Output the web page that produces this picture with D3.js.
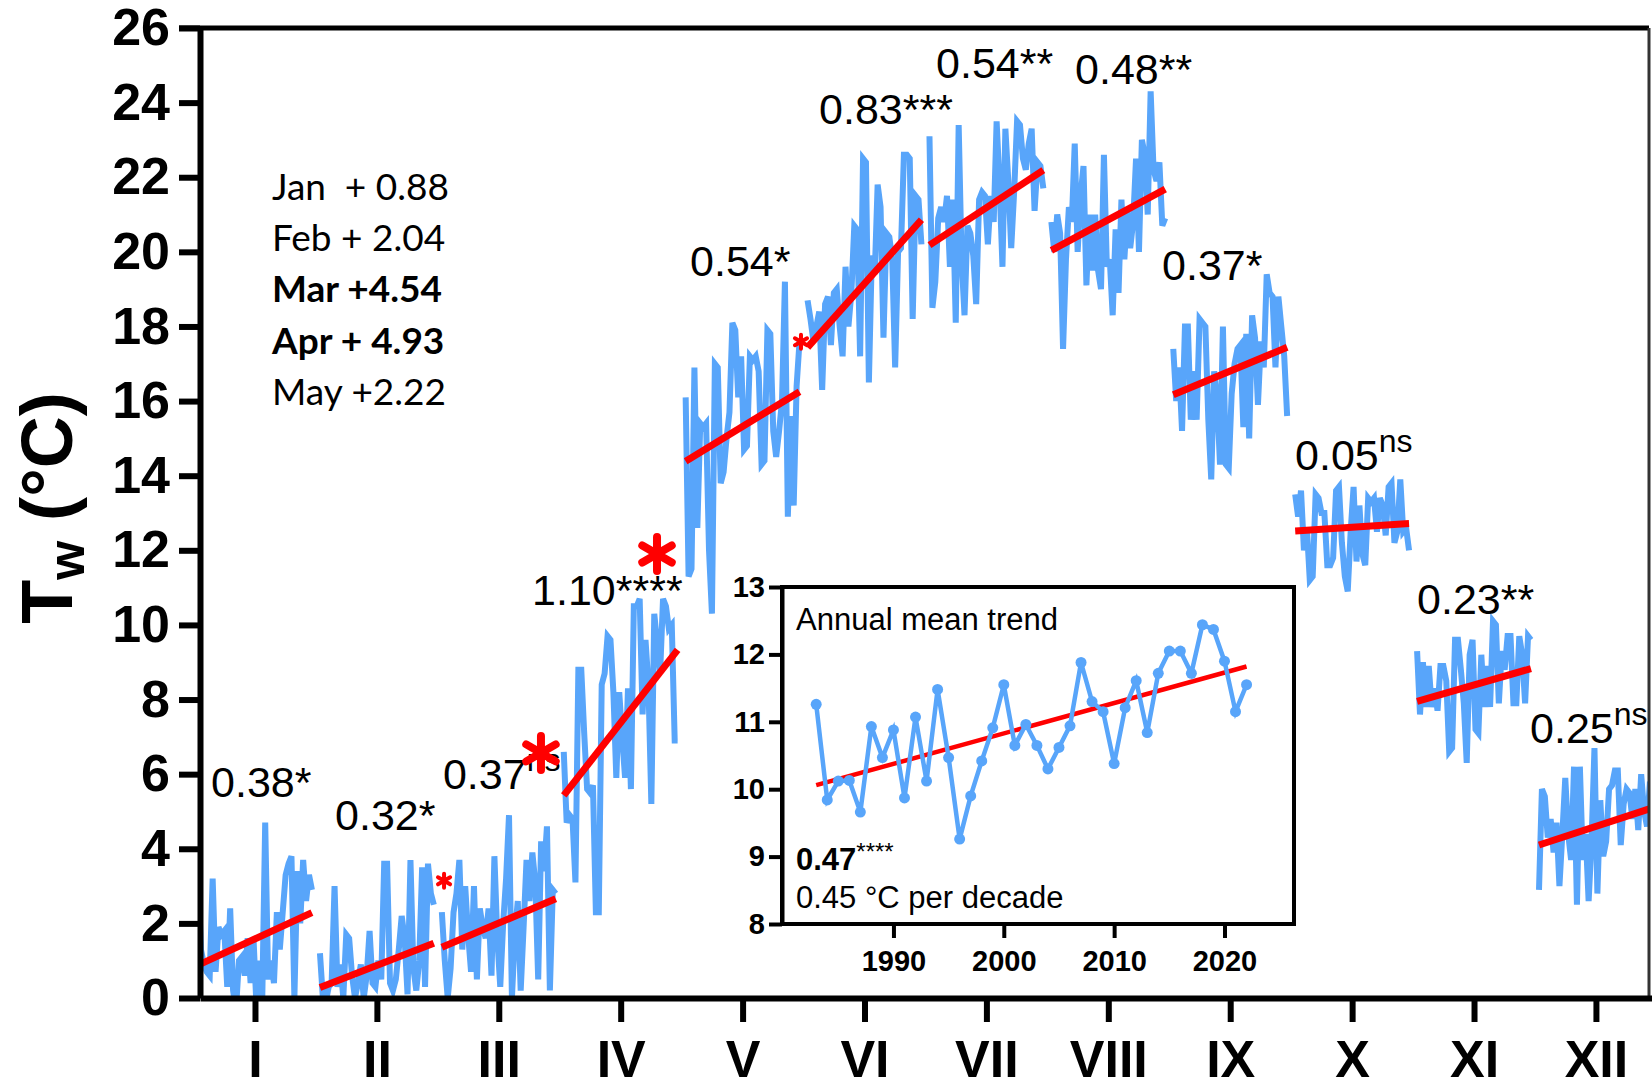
<!DOCTYPE html>
<html>
<head>
<meta charset="utf-8">
<script src="https://cdn.jsdelivr.net/npm/d3@7"></script>
<style>
  html, body { margin: 0; padding: 0; background: #fff; }
  svg { display: block; }
</style>
</head>
<body>
<script>
// monthly mean water temperature, 1983-2022, one array per month
const years = d3.range(1983, 2023);
const monthLabels = ["I", "II", "III", "IV", "V", "VI", "VII", "VIII", "IX", "X", "XI", "XII"];

const jan = [3.5, 1.3, 0.9, 0.7, 0.6, 3.2, 0.7, 1.9, 1.7, 1.8, 0.3, 2.4, 0.2, -0.3, 1.0, 1.1, 0.6, 1.6, 0.4, 1.6, -0.2, 1.0, 0.0, 4.7, 0.5, 1.0, 0.4, 2.3, 1.3, 2.3, 3.3, 3.6, 3.8, 0.0, 3.4, 2.0, 3.7, 2.6, 3.3, 2.9];
const feb = [1.2, 0.0, -0.1, 0.3, 0.4, 3.0, 0.3, 0.9, 0.0, 1.7, 1.6, 0.6, 0.0, 0.4, 0.9, 0.0, 0.6, 1.8, 0.4, 0.3, 1.0, 0.5, 3.6, 3.6, 0.4, 0.2, 0.5, 1.3, 2.2, 1.6, 0.1, 3.7, 0.8, 0.2, 1.0, 3.5, 0.3, 3.6, 2.8, 2.5];
const mar = [2.3, 1.0, 0.0, 0.8, 2.3, 2.8, 3.7, 1.3, 3.0, 1.7, 0.7, 3.0, 0.5, 2.4, 1.9, 1.6, 2.4, 0.6, 3.8, 1.6, 0.3, 2.0, 3.2, 4.9, 0.0, 1.7, 2.6, 0.2, 1.9, 3.7, 2.6, 3.9, 3.1, 0.5, 4.2, 3.4, 4.6, 0.2, 2.9, 2.8];
const apr = [6.6, 4.7, 4.9, 4.8, 3.1, 8.8, 8.8, 7.1, 5.6, 5.5, 5.7, 2.3, 2.3, 8.4, 8.7, 9.7, 9.6, 8.2, 5.9, 8.2, 7.0, 5.9, 8.3, 5.6, 10.5, 10.5, 10.7, 7.6, 9.6, 8.4, 5.2, 10.3, 9.5, 8.7, 10.7, 10.5, 9.9, 10.0, 6.9, 6.9];
const may = [16.1, 11.3, 11.5, 16.9, 12.6, 15.4, 15.3, 15.4, 12.0, 10.3, 17.0, 16.9, 13.8, 14.1, 15.0, 15.7, 18.1, 17.9, 16.1, 17.2, 14.7, 14.8, 17.2, 17.1, 17.2, 16.8, 14.3, 14.4, 17.9, 17.8, 15.2, 14.5, 15.2, 16.0, 19.2, 12.9, 15.6, 13.2, 16.4, 17.6];
const jun = [18.7, 18.2, 17.6, 18.0, 18.4, 16.3, 18.6, 18.8, 17.5, 18.9, 19.0, 18.0, 17.2, 19.6, 18.0, 18.9, 20.7, 20.6, 17.2, 22.5, 22.4, 16.5, 19.9, 19.4, 21.8, 21.2, 17.7, 20.5, 20.4, 19.8, 16.9, 20.0, 20.1, 22.6, 22.6, 22.5, 18.2, 21.5, 21.4, 20.2];
const jul = [23.1, 18.5, 19.2, 20.9, 21.2, 20.8, 21.5, 19.6, 21.4, 18.1, 23.4, 19.8, 18.3, 20.7, 20.5, 19.9, 18.6, 21.4, 21.6, 21.5, 20.2, 21.5, 20.8, 23.5, 21.8, 19.6, 23.3, 21.9, 20.1, 21.6, 23.5, 23.4, 22.5, 22.2, 22.9, 23.3, 21.1, 22.4, 22.3, 21.7];
const aug = [20.8, 20.0, 21.0, 20.5, 17.4, 19.8, 21.2, 20.8, 22.9, 20.0, 21.5, 22.3, 19.1, 21.0, 19.5, 21.0, 19.5, 19.0, 22.6, 19.6, 19.8, 18.3, 20.6, 18.9, 21.4, 19.8, 21.1, 20.1, 20.8, 22.5, 20.0, 23.0, 22.6, 21.0, 24.3, 22.2, 21.9, 22.4, 20.7, 20.9];
const sep = [17.4, 16.0, 16.9, 15.2, 18.0, 18.0, 15.5, 16.8, 15.5, 18.2, 18.1, 18.0, 15.5, 13.9, 16.8, 16.1, 14.3, 18.0, 14.3, 14.2, 16.2, 17.0, 17.4, 17.5, 15.3, 17.8, 15.0, 18.3, 17.7, 15.9, 17.6, 16.9, 19.4, 18.9, 18.8, 16.9, 18.8, 18.0, 17.2, 15.6];
const oct = [13.5, 12.9, 13.6, 12.0, 12.6, 11.2, 11.3, 13.5, 13.4, 13.0, 13.0, 11.6, 11.6, 11.8, 13.6, 13.7, 12.2, 11.3, 10.9, 12.5, 13.7, 11.7, 13.2, 11.9, 11.6, 13.4, 13.3, 13.4, 12.5, 13.4, 13.2, 12.4, 13.7, 13.8, 12.2, 12.5, 13.9, 12.5, 12.6, 12.0];
const nov = [9.3, 7.6, 9.0, 7.8, 8.9, 7.8, 8.3, 7.7, 8.9, 8.9, 8.5, 6.6, 6.7, 9.6, 9.6, 8.8, 7.9, 6.3, 9.2, 9.6, 7.2, 7.1, 9.2, 7.8, 8.9, 7.8, 10.1, 10.0, 7.9, 9.3, 8.8, 9.7, 9.7, 7.9, 7.9, 9.7, 9.2, 7.9, 9.7, 9.6];
const dec = [2.9, 5.6, 5.4, 4.3, 4.8, 3.9, 4.7, 3.0, 4.4, 5.9, 4.4, 3.7, 6.2, 2.5, 6.2, 3.7, 4.4, 2.6, 4.2, 6.7, 2.8, 5.3, 3.8, 4.2, 5.6, 5.7, 6.1, 6.1, 4.1, 5.2, 5.6, 5.5, 4.8, 5.6, 4.5, 6.0, 5.0, 4.6, 5.8, 5.2];
const monthly = [jan, feb, mar, apr, may, jun, jul, aug, sep, oct, nov, dec];

// fitted trend at 1983 and 2022
const trendStart = [0.88, 0.28, 1.36, 5.43, 14.39, 17.44, 20.18, 20.04, 16.17, 12.52, 7.95, 4.1];
const trendEnd = [2.29, 1.47, 2.66, 9.33, 16.25, 20.86, 22.19, 21.68, 17.44, 12.72, 8.83, 5.1];

const slopeText = ["0.38*", "0.32*", "0.37", "1.10****", "0.54*", "0.83***", "0.54**", "0.48**", "0.37*", "0.05", "0.23**", "0.25"];
const slopeSup = ["", "", "ns", "", "", "", "", "", "", "ns", "", "ns"];

const notes = ["Jan  + 0.88", "Feb + 2.04", "Mar +4.54", "Apr + 4.93", "May +2.22"];
const notesBold = [false, false, true, true, false];

const annualMean = [11.26, 9.84, 10.12, 10.13, 9.66, 10.93, 10.47, 10.88, 9.87, 11.07, 10.12, 11.48, 10.47, 9.26, 9.90, 10.42, 10.91, 11.55, 10.65, 10.96, 10.65, 10.30, 10.62, 10.94, 11.88, 11.30, 11.15, 10.38, 11.21, 11.61, 10.84, 11.72, 12.05, 12.05, 11.72, 12.44, 12.37, 11.90, 11.15, 11.55];
const annualTrend = [10.06, 11.82];

const yTicks = d3.range(0, 27, 2);
const insetYTicks = [8, 9, 10, 11, 12, 13];
const insetXTicks = [1990, 2000, 2010, 2020];

// label anchors, in [month, value] units
const labelAt = [[0.64, 5.39], [1.657, 4.5], [2.542, 5.6], [3.273, 10.54], [4.569, 19.36], [5.627, 23.43], [6.587, 24.66], [7.727, 24.5], [8.441, 19.25], [9.532, 14.16], [10.533, 10.29], [11.46, 6.84]];
const markAt = [[3.346, 6.57], [4.298, 11.9], [2.551, 3.14], [5.479, 17.59]];
const markBig = [true, true, false, false];

const W = 1652, H = 1082;
const font = "'Liberation Sans', Arial, Helvetica, sans-serif";
const blue = "#58a5fa";
const red = "#ff0000";

const svg = d3.select("body").append("svg").attr("width", W).attr("height", H);
svg.append("rect").attr("width", W).attr("height", H).attr("fill", "#fff");

const x = d3.scaleLinear().domain([0.549, 12.46]).range([200, 1652]);
const y = d3.scaleLinear().domain([0, 26]).range([998, 28]);
const spread = d3.scaleLinear().domain([1983, 2022]).range([-0.467, 0.467]);

svg.append("clipPath").attr("id", "plot")
    .append("rect").attr("x", 200).attr("y", 28).attr("width", 1449).attr("height", 970);

const plot = svg.append("g").attr("clip-path", "url(#plot)");
const line = d3.line().x(d => x(d.m)).y(d => y(d.v));

monthly.forEach((vals, i) => {
    const m = i + 1;
    plot.append("path")
        .datum(vals.map((v, k) => ({ m: m + spread(years[k]), v })))
        .attr("d", line)
        .attr("fill", "none")
        .attr("stroke", blue)
        .attr("stroke-width", 6);
});

monthly.forEach((vals, i) => {
    const m = i + 1;
    plot.append("line")
        .attr("x1", x(m + spread(1983))).attr("y1", y(trendStart[i]))
        .attr("x2", x(m + spread(2022))).attr("y2", y(trendEnd[i]))
        .attr("stroke", red)
        .attr("stroke-width", 7);
});

function styleAxis(g, size, width) {
    g.select(".domain").attr("stroke", "#000").attr("stroke-width", width);
    g.selectAll(".tick line").attr("stroke", "#000").attr("stroke-width", width);
    g.selectAll(".tick text").attr("fill", "#000").style("font", `bold ${size}px ${font}`);
}

// frame
svg.append("line").attr("x1", 179).attr("x2", 1649).attr("y1", 28).attr("y2", 28)
    .attr("stroke", "#000").attr("stroke-width", 5);
svg.append("line").attr("x1", 1649).attr("x2", 1649).attr("y1", 28).attr("y2", 998)
    .attr("stroke", "#333").attr("stroke-width", 3);

svg.append("g")
    .attr("transform", "translate(200,0)")
    .call(d3.axisLeft(y).tickValues(yTicks).tickSize(21).tickSizeOuter(0).tickPadding(9))
    .call(g => styleAxis(g, 52, 6));

svg.append("g")
    .attr("transform", "translate(0,998)")
    .call(d3.axisBottom(x).tickValues(d3.range(1, 13)).tickFormat(d => monthLabels[d - 1])
        .tickSize(24).tickSizeOuter(0).tickPadding(18))
    .call(g => styleAxis(g, 52, 6));

svg.append("text")
    .attr("transform", "translate(72,508) rotate(-90)")
    .attr("text-anchor", "middle")
    .style("font", `bold 72px ${font}`)
    .call(t => {
        t.append("tspan").text("T");
        t.append("tspan").attr("font-size", 50).attr("dy", 12).text("w");
        t.append("tspan").attr("dy", -12).text(" (°C)");
    });

// slope per decade labels
slopeText.forEach((s, i) => {
    const t = svg.append("text")
        .attr("x", x(labelAt[i][0]))
        .attr("y", y(labelAt[i][1]))
        .style("font", `43px ${font}`);
    t.append("tspan").text(s);
    if (slopeSup[i]) t.append("tspan").attr("font-size", 32).attr("dy", -18).text(slopeSup[i]);
});

const asterisk = r => {
    const p = d3.path();
    for (let k = 0; k < 3; k++) {
        const a = Math.PI / 2 + k * Math.PI / 3;
        p.moveTo(r * Math.cos(a), r * Math.sin(a));
        p.lineTo(-r * Math.cos(a), -r * Math.sin(a));
    }
    return p.toString();
};

markAt.forEach((d, i) => {
    svg.append("path")
        .attr("transform", `translate(${x(d[0])},${y(d[1])})`)
        .attr("d", asterisk(markBig[i] ? 17 : 7))
        .attr("stroke", red)
        .attr("stroke-width", markBig[i] ? 8 : 4)
        .attr("stroke-linecap", "round");
});

notes.forEach((s, i) => {
    svg.append("text")
        .attr("x", 272)
        .attr("y", 200 + i * 51.2)
        .style("white-space", "pre")
        .style("font", `${notesBold[i] ? "bold " : ""}37px Lato, 'Open Sans', sans-serif`)
        .text(s);
});

// inset: annual mean
const ix = d3.scaleLinear().domain([1979.9, 2026.3]).range([782, 1294]);
const iy = d3.scaleLinear().domain([8, 13]).range([924, 587]);

const inset = svg.append("g");
inset.append("rect")
    .attr("x", 782).attr("y", 587).attr("width", 512).attr("height", 337)
    .attr("fill", "#fff").attr("stroke", "#000").attr("stroke-width", 4);

inset.append("g")
    .attr("transform", "translate(782,0)")
    .call(d3.axisLeft(iy).tickValues(insetYTicks).tickFormat(d3.format("d"))
        .tickSize(13).tickSizeOuter(0).tickPadding(4))
    .call(g => styleAxis(g, 29, 4));

inset.append("g")
    .attr("transform", "translate(0,924)")
    .call(d3.axisBottom(ix).tickValues(insetXTicks).tickFormat(d3.format("d"))
        .tickSize(14).tickSizeOuter(0).tickPadding(12))
    .call(g => styleAxis(g, 29, 4))
    .call(g => g.select(".domain").remove());

inset.append("line")
    .attr("x1", ix(1983)).attr("y1", iy(annualTrend[0]))
    .attr("x2", ix(2022)).attr("y2", iy(annualTrend[1]))
    .attr("stroke", red).attr("stroke-width", 4.5);

const annual = annualMean.map((v, k) => ({ yr: years[k], v }));
inset.append("path")
    .datum(annual)
    .attr("d", d3.line().x(d => ix(d.yr)).y(d => iy(d.v)))
    .attr("fill", "none")
    .attr("stroke", blue)
    .attr("stroke-width", 4.5);

inset.selectAll("circle.pt")
    .data(annual)
    .join("circle")
    .attr("class", "pt")
    .attr("cx", d => ix(d.yr))
    .attr("cy", d => iy(d.v))
    .attr("r", 5.5)
    .attr("fill", blue);

inset.append("text").attr("x", 796).attr("y", 630)
    .style("font", `31px ${font}`).text("Annual mean trend");
inset.append("text").attr("x", 796).attr("y", 870)
    .style("font", `bold 31px ${font}`)
    .call(t => {
        t.append("tspan").text("0.47");
        t.append("tspan").attr("font-size", 24).attr("font-weight", "normal").attr("dy", -10).text("****");
    });
inset.append("text").attr("x", 796).attr("y", 908)
    .style("font", `31px ${font}`).text("0.45 °C per decade");
</script>
</body>
</html>
